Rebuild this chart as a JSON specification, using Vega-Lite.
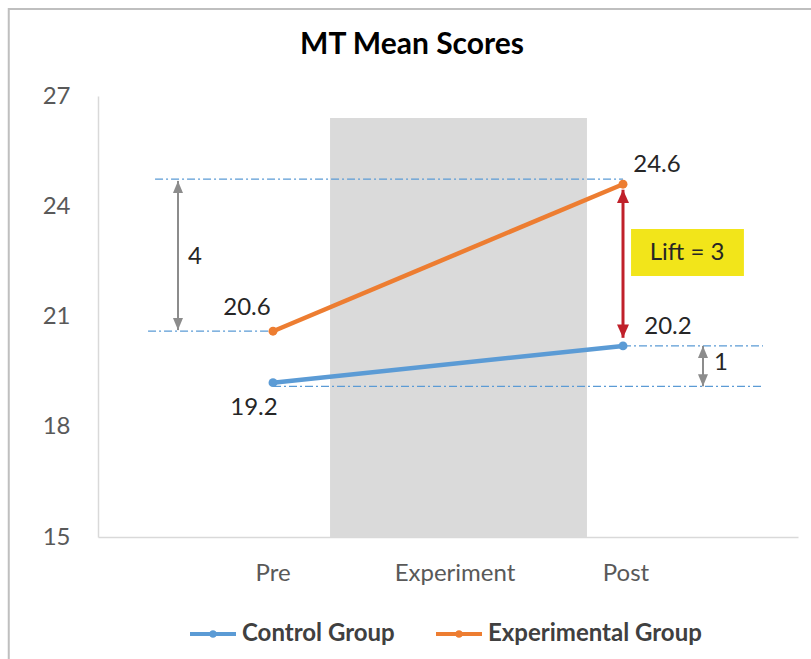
{
  "$schema": "https://vega.github.io/schema/vega-lite/v6.json",
  "width": 700,
  "height": 441,
  "autosize": "none",
  "padding": {"left": 98, "top": 96, "right": 13, "bottom": 122},
  "background": "white",
  "config": {"view": {"stroke": null}, "font": "Lato"},
  "title": {"text": "MT Mean Scores", "font": "Lato", "fontSize": 30, "fontWeight": "bold", "color": "#000000", "anchor": "middle", "dx": -36, "offset": -76, "baseline": "alphabetic"},
  "datasets": {
    "frame": [{"x": -0.51, "x2": 4.3, "y": 29.37, "y2": 10}],
    "band": [{"x": 1.326, "x2": 2.794, "y": 26.4, "y2": 15}],
    "guides": [
      {"x": 0.326, "x2": 3, "y": 24.74},
      {"x": 0.286, "x2": 1, "y": 20.6},
      {"x": 3, "x2": 3.8, "y": 20.2},
      {"x": 1, "x2": 3.8, "y": 19.1}
    ],
    "scores": [
      {"stage": 1, "score": 19.2, "group": "Control Group"},
      {"stage": 3, "score": 20.2, "group": "Control Group"},
      {"stage": 1, "score": 20.6, "group": "Experimental Group"},
      {"stage": 3, "score": 24.6, "group": "Experimental Group"}
    ],
    "grayArrows": [
      {"x": 0.457, "top": 24.69, "bottom": 20.63},
      {"x": 3.457, "top": 20.2, "bottom": 19.1}
    ],
    "redArrow": [{"x": 3.0, "top": 24.45, "bottom": 20.42}],
    "liftBox": [{"x": 3.046, "x2": 3.691, "y": 23.38, "y2": 22.1, "label": "Lift = 3", "lx": 3.366, "ly": 22.73}],
    "labels": [
      {"x": 3.194, "y": 25.12, "text": "24.6"},
      {"x": 3.257, "y": 20.71, "text": "20.2"},
      {"x": 0.851, "y": 21.23, "text": "20.6"},
      {"x": 0.891, "y": 18.51, "text": "19.2"},
      {"x": 0.554, "y": 22.62, "text": "4"},
      {"x": 3.56, "y": 19.73, "text": "1"}
    ],
    "xlabels": [
      {"x": 1.0, "y": 14.0, "text": "Pre"},
      {"x": 2.04, "y": 14.0, "text": "Experiment"},
      {"x": 3.017, "y": 14.0, "text": "Post"}
    ]
  },
  "layer": [
    {
      "data": {"name": "frame"},
      "mark": {"type": "rect", "fill": null, "fillOpacity": 0, "stroke": "#bfbfbf", "strokeWidth": 2, "clip": false},
      "encoding": {
        "x": {"field": "x", "type": "quantitative", "title": null, "scale": {"domain": [0, 4], "nice": false, "zero": false}, "axis": {"title": null, "labels": false, "ticks": false, "grid": false, "domainColor": "#d9d9d9", "domainWidth": 1.5}},
        "x2": {"field": "x2"},
        "y": {"field": "y", "type": "quantitative", "title": null, "scale": {"domain": [15, 27], "nice": false, "zero": false}, "axis": {"values": [15, 18, 21, 24, 27], "title": null, "grid": false, "ticks": false, "tickSize": 0, "labelPadding": 28, "labelFont": "Lato", "labelFontSize": 24, "labelColor": "#595959", "domainColor": "#d9d9d9", "domainWidth": 1.5}},
        "y2": {"field": "y2"}
      }
    },
    {
      "data": {"name": "band"},
      "mark": {"type": "rect", "fill": "#dadada"},
      "encoding": {
        "x": {"field": "x", "type": "quantitative", "title": null},
        "x2": {"field": "x2"},
        "y": {"field": "y", "type": "quantitative", "title": null},
        "y2": {"field": "y2"}
      }
    },
    {
      "data": {"name": "guides"},
      "mark": {"type": "rule", "stroke": "#5b9bd5", "strokeWidth": 1.2, "strokeDash": [8, 3, 2, 3]},
      "encoding": {
        "x": {"field": "x", "type": "quantitative", "title": null},
        "x2": {"field": "x2"},
        "y": {"field": "y", "type": "quantitative", "title": null}
      }
    },
    {
      "data": {"name": "scores"},
      "mark": {"type": "line", "strokeWidth": 4.5},
      "encoding": {
        "x": {"field": "stage", "type": "quantitative", "title": null},
        "y": {"field": "score", "type": "quantitative", "title": null},
        "color": {
          "field": "group", "type": "nominal",
          "scale": {"domain": ["Control Group", "Experimental Group"], "range": ["#5b9bd5", "#ed7d31"]},
          "legend": {
            "orient": "none", "legendX": 90, "legendY": 513, "direction": "horizontal", "title": null,
            "symbolType": "M-1,0H1M-0.08,0A0.08,0.08 0 1,0 0.08,0A0.08,0.08 0 1,0 -0.08,0",
            "symbolSize": 2116, "symbolStrokeWidth": 4,
            "labelFont": "Lato", "labelFontSize": 24, "labelFontWeight": "bold", "labelColor": "#404040",
            "labelOffset": 4, "columnPadding": 33, "padding": 0, "labelLimit": 400,
            "encode": {"symbols": {"update": {"fill": {"scale": "color", "field": "value"}, "stroke": {"scale": "color", "field": "value"}}}}
          }
        }
      }
    },
    {
      "data": {"name": "scores"},
      "mark": {"type": "point", "filled": true, "size": 80, "opacity": 1},
      "encoding": {
        "x": {"field": "stage", "type": "quantitative", "title": null},
        "y": {"field": "score", "type": "quantitative", "title": null},
        "color": {"field": "group", "type": "nominal", "legend": null}
      }
    },
    {
      "data": {"name": "grayArrows"},
      "mark": {"type": "rule", "stroke": "#8c8c8c", "strokeWidth": 2},
      "encoding": {
        "x": {"field": "x", "type": "quantitative", "title": null},
        "y": {"field": "top", "type": "quantitative", "title": null},
        "y2": {"field": "bottom"}
      }
    },
    {
      "data": {"name": "grayArrows"},
      "mark": {"type": "point", "shape": "M0,0L-1,2.4L1,2.4Z", "size": 100, "filled": true, "color": "#8c8c8c", "opacity": 1},
      "encoding": {
        "x": {"field": "x", "type": "quantitative", "title": null},
        "y": {"field": "top", "type": "quantitative", "title": null}
      }
    },
    {
      "data": {"name": "grayArrows"},
      "mark": {"type": "point", "shape": "M0,0L-1,-2.4L1,-2.4Z", "size": 100, "filled": true, "color": "#8c8c8c", "opacity": 1},
      "encoding": {
        "x": {"field": "x", "type": "quantitative", "title": null},
        "y": {"field": "bottom", "type": "quantitative", "title": null}
      }
    },
    {
      "data": {"name": "redArrow"},
      "mark": {"type": "rule", "stroke": "#c0202a", "strokeWidth": 3},
      "encoding": {
        "x": {"field": "x", "type": "quantitative", "title": null},
        "y": {"field": "top", "type": "quantitative", "title": null},
        "y2": {"field": "bottom"}
      }
    },
    {
      "data": {"name": "redArrow"},
      "mark": {"type": "point", "shape": "M0,0L-1,2.2L1,2.2Z", "size": 144, "filled": true, "color": "#c0202a", "opacity": 1},
      "encoding": {
        "x": {"field": "x", "type": "quantitative", "title": null},
        "y": {"field": "top", "type": "quantitative", "title": null}
      }
    },
    {
      "data": {"name": "redArrow"},
      "mark": {"type": "point", "shape": "M0,0L-1,-2.2L1,-2.2Z", "size": 144, "filled": true, "color": "#c0202a", "opacity": 1},
      "encoding": {
        "x": {"field": "x", "type": "quantitative", "title": null},
        "y": {"field": "bottom", "type": "quantitative", "title": null}
      }
    },
    {
      "data": {"name": "liftBox"},
      "mark": {"type": "rect", "fill": "#f2e51a"},
      "encoding": {
        "x": {"field": "x", "type": "quantitative", "title": null},
        "x2": {"field": "x2"},
        "y": {"field": "y", "type": "quantitative", "title": null},
        "y2": {"field": "y2"}
      }
    },
    {
      "data": {"name": "liftBox"},
      "mark": {"type": "text", "font": "Lato", "fontSize": 24, "color": "#262626", "align": "center", "baseline": "middle"},
      "encoding": {
        "x": {"field": "lx", "type": "quantitative", "title": null},
        "y": {"field": "ly", "type": "quantitative", "title": null},
        "text": {"field": "label"}
      }
    },
    {
      "data": {"name": "labels"},
      "mark": {"type": "text", "font": "Lato", "fontSize": 24, "color": "#262626", "align": "center", "baseline": "middle"},
      "encoding": {
        "x": {"field": "x", "type": "quantitative", "title": null},
        "y": {"field": "y", "type": "quantitative", "title": null},
        "text": {"field": "text"}
      }
    },
    {
      "data": {"name": "xlabels"},
      "mark": {"type": "text", "font": "Lato", "fontSize": 24, "color": "#595959", "align": "center", "baseline": "middle", "clip": false},
      "encoding": {
        "x": {"field": "x", "type": "quantitative", "title": null},
        "y": {"field": "y", "type": "quantitative", "title": null},
        "text": {"field": "text"}
      }
    }
  ]
}
